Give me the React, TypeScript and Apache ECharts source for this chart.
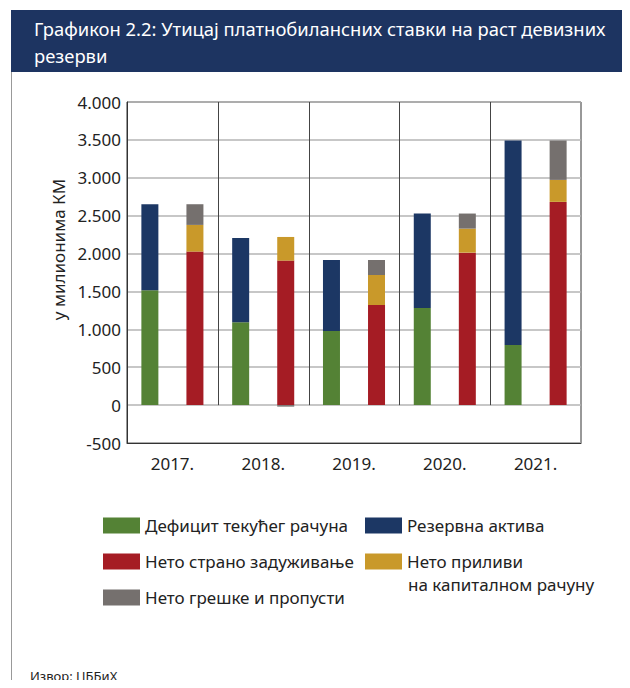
import React, { useEffect, useRef } from "react";
import * as echarts from "echarts";

const years = ["2017.", "2018.", "2019.", "2020.", "2021."];
const currentAccountDeficit = [1515, 1092, 978, 1281, 793];
const reserveAssets = [1136, 1114, 937, 1247, 2699];
const netForeignBorrowing = [2026, 1907, 1321, 2012, 2682];
const capitalAccountInflows = [352, 312, 396, 317, 290];
const errorsOmissions = [273, -20, 198, 199, 520];
const separatorIndexes = [0, 1, 2, 3];

const names = {
  deficit: "Дефицит текућег рачуна",
  reserves: "Резервна актива",
  borrowing: "Нето страно задуживање",
  capital: "Нето приливи",
  errors: "Нето грешке и пропусти",
};

const colors = {
  deficit: "#548235",
  reserves: "#1c3764",
  borrowing: "#a51c24",
  capital: "#c9992a",
  errors: "#75706e",
};

const FONT = "Noto Sans";

export default function App() {
  const ref = useRef<HTMLDivElement>(null);
  useEffect(() => {
    const chart = echarts.init(ref.current!, null, { renderer: "svg" });
    const barWidth = 17;
    const mkBar = (name: string, data: number[], color: string, stack: string) => ({
      name,
      type: "bar",
      stack,
      data,
      barWidth,
      barGap: "165%",
      itemStyle: { color },
      emphasis: { disabled: true },
    });
    const legendItem = (name: string, left: number, top: number) => ({
      data: [name],
      left,
      top,
      orient: "horizontal",
      itemWidth: 37,
      itemHeight: 16,
      itemGap: 6,
      icon: "rect",
      padding: 0,
      selectedMode: false,
      textStyle: { fontFamily: FONT, fontSize: 17, color: "#222" },
    });
    chart.setOption({
      animation: false,
      backgroundColor: "#fff",
      title: {
        text: "Графикон 2.2: Утицај платнобилансних ставки на раст девизних\nрезерви",
        left: 29,
        top: 10,
        textStyle: {
          color: "#fff",
          fontFamily: FONT,
          fontSize: 18.4,
          fontWeight: "normal",
          lineHeight: 27,
        },
      },
      graphic: [
        {
          type: "rect",
          z: -1,
          shape: { x: 11, y: 10, width: 630, height: 62 },
          style: { fill: "#1d3461" },
        },
        {
          type: "line",
          shape: { x1: 11.5, y1: 72, x2: 11.5, y2: 688 },
          style: { stroke: "#999", lineWidth: 1 },
        },
        {
          type: "text",
          left: 408,
          top: 576,
          style: {
            text: "на капиталном рачуну",
            fontFamily: FONT,
            fontSize: 17,
            fill: "#222",
          },
        },
        {
          type: "text",
          left: 30,
          top: 669,
          style: {
            text: "Извор: ЦББиХ",
            fontFamily: FONT,
            fontSize: 13,
            fill: "#222",
          },
        },
      ],
      legend: [
        legendItem(names.deficit, 103, 517),
        legendItem(names.reserves, 365, 517),
        legendItem(names.borrowing, 103, 553),
        legendItem(names.capital, 365, 553),
        legendItem(names.errors, 103, 589),
      ],
      grid: {
        left: 127,
        right: 49,
        top: 102,
        bottom: 245,
        show: true,
        borderColor: "#333",
        borderWidth: 1,
      },
      xAxis: {
        type: "category",
        data: years,
        axisLine: { onZero: false, lineStyle: { color: "#333" } },
        axisTick: { show: false },
        axisLabel: {
          fontFamily: FONT,
          fontSize: 17,
          color: "#222",
          margin: 12,
        },
      },
      yAxis: {
        type: "value",
        min: -500,
        max: 4000,
        interval: 500,
        name: "у милионима КМ",
        nameLocation: "middle",
        nameGap: 52,
        nameTextStyle: {
          fontFamily: FONT,
          fontSize: 17,
          color: "#222",
          padding: [0, 0, 0, 46],
        },
        axisLine: { show: true, lineStyle: { color: "#333" } },
        axisTick: { show: false },
        axisLabel: {
          fontFamily: FONT,
          fontSize: 17,
          color: "#222",
          margin: 6,
          formatter: (v: number) => {
            const s = Math.abs(v).toString().replace(/\B(?=(\d{3})+(?!\d))/g, ".");
            return (v < 0 ? "-" : "") + s;
          },
        },
        splitLine: { lineStyle: { color: "#b5b5b5", width: 1.5 } },
      },
      series: [
        mkBar(names.deficit, currentAccountDeficit, colors.deficit, "left"),
        mkBar(names.reserves, reserveAssets, colors.reserves, "left"),
        mkBar(names.borrowing, netForeignBorrowing, colors.borrowing, "right"),
        mkBar(names.capital, capitalAccountInflows, colors.capital, "right"),
        mkBar(names.errors, errorsOmissions, colors.errors, "right"),
        {
          type: "custom",
          name: "separators",
          silent: true,
          data: separatorIndexes,
          renderItem: (params: any, api: any) => {
            const idx = api.value(0);
            const half = api.size([1, 0])[0] / 2;
            const top = api.coord([idx, 4000]);
            const zero = api.coord([idx, 0]);
            const x = Math.round(top[0] + half) + 0.5;
            return {
              type: "line",
              shape: { x1: x, y1: top[1], x2: x, y2: zero[1] },
              style: { stroke: "#444", lineWidth: 1 },
            };
          },
          encode: { x: 0 },
          z: 3,
        },
      ],
    });
    return () => chart.dispose();
  }, []);
  return <div ref={ref} style={{ width: 630, height: 688, margin: -8 }} />;
}
